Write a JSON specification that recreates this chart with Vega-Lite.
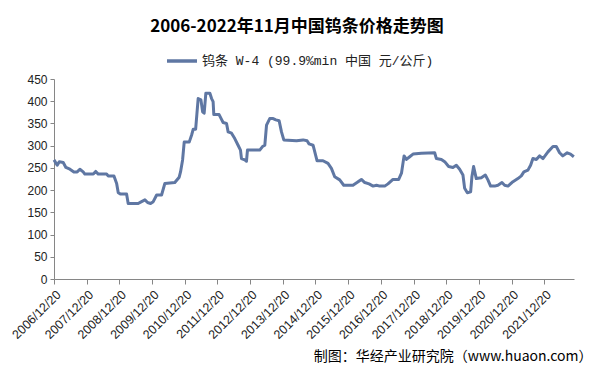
{
  "$schema": "https://vega.github.io/schema/vega-lite/v6.json",
  "autosize": {"type": "none"},
  "width": 520,
  "height": 200,
  "padding": {"left": 54, "top": 79, "right": 21, "bottom": 95},
  "background": "white",
  "title": {
    "text": "2006-2022年11月中国钨条价格走势图",
    "font": "Noto Sans CJK SC",
    "fontSize": 17,
    "fontWeight": "bold",
    "color": "#000000",
    "anchor": "middle",
    "frame": "group",
    "dx": -17,
    "offset": 8
  },
  "config": {
    "view": {"stroke": null},
    "axis": {
      "labelFont": "Liberation Sans",
      "labelColor": "#222222",
      "domainColor": "#868686",
      "tickColor": "#868686",
      "grid": false
    }
  },
  "data": {
    "values": [
      {"date": "2006-12-20", "price": 268},
      {"date": "2007-01-25", "price": 256},
      {"date": "2007-02-17", "price": 264},
      {"date": "2007-04-02", "price": 262},
      {"date": "2007-05-02", "price": 251},
      {"date": "2007-06-16", "price": 247},
      {"date": "2007-07-30", "price": 241},
      {"date": "2007-09-05", "price": 241},
      {"date": "2007-10-05", "price": 247},
      {"date": "2007-11-11", "price": 241},
      {"date": "2007-11-30", "price": 236},
      {"date": "2008-03-03", "price": 236},
      {"date": "2008-03-30", "price": 242},
      {"date": "2008-04-28", "price": 236},
      {"date": "2008-07-30", "price": 236},
      {"date": "2008-08-17", "price": 232},
      {"date": "2008-10-20", "price": 232},
      {"date": "2008-11-19", "price": 215},
      {"date": "2008-12-07", "price": 194},
      {"date": "2009-01-03", "price": 191},
      {"date": "2009-03-10", "price": 191},
      {"date": "2009-03-28", "price": 170},
      {"date": "2009-07-18", "price": 170},
      {"date": "2009-08-14", "price": 173},
      {"date": "2009-10-01", "price": 178},
      {"date": "2009-10-31", "price": 172},
      {"date": "2009-12-03", "price": 170},
      {"date": "2010-01-02", "price": 174},
      {"date": "2010-02-09", "price": 189},
      {"date": "2010-04-05", "price": 189},
      {"date": "2010-05-12", "price": 215},
      {"date": "2010-08-31", "price": 217},
      {"date": "2010-10-19", "price": 229},
      {"date": "2010-11-03", "price": 241},
      {"date": "2010-11-26", "price": 268},
      {"date": "2010-12-14", "price": 308},
      {"date": "2011-02-08", "price": 308},
      {"date": "2011-03-07", "price": 324},
      {"date": "2011-03-25", "price": 337},
      {"date": "2011-04-21", "price": 337},
      {"date": "2011-05-19", "price": 406},
      {"date": "2011-06-19", "price": 403},
      {"date": "2011-07-08", "price": 376},
      {"date": "2011-07-25", "price": 373},
      {"date": "2011-08-13", "price": 418},
      {"date": "2011-09-27", "price": 418},
      {"date": "2011-10-16", "price": 406},
      {"date": "2011-11-02", "price": 399},
      {"date": "2011-11-10", "price": 370},
      {"date": "2012-01-08", "price": 370},
      {"date": "2012-02-04", "price": 359},
      {"date": "2012-02-22", "price": 352},
      {"date": "2012-03-31", "price": 350},
      {"date": "2012-04-18", "price": 331},
      {"date": "2012-05-26", "price": 328},
      {"date": "2012-07-01", "price": 316},
      {"date": "2012-08-07", "price": 301},
      {"date": "2012-09-03", "price": 290},
      {"date": "2012-09-14", "price": 271},
      {"date": "2012-10-21", "price": 268},
      {"date": "2012-11-09", "price": 265},
      {"date": "2012-11-20", "price": 290},
      {"date": "2013-04-06", "price": 290},
      {"date": "2013-05-07", "price": 298},
      {"date": "2013-06-02", "price": 301},
      {"date": "2013-06-21", "price": 346},
      {"date": "2013-07-27", "price": 361},
      {"date": "2013-09-03", "price": 361},
      {"date": "2013-10-03", "price": 358},
      {"date": "2013-11-09", "price": 356},
      {"date": "2013-12-05", "price": 331},
      {"date": "2013-12-31", "price": 313},
      {"date": "2014-05-22", "price": 311},
      {"date": "2014-08-04", "price": 313},
      {"date": "2014-09-17", "price": 311},
      {"date": "2014-10-09", "price": 304},
      {"date": "2014-11-23", "price": 301},
      {"date": "2015-01-07", "price": 266},
      {"date": "2015-03-14", "price": 266},
      {"date": "2015-05-09", "price": 260},
      {"date": "2015-06-16", "price": 249},
      {"date": "2015-07-23", "price": 230},
      {"date": "2015-09-17", "price": 223},
      {"date": "2015-11-01", "price": 211},
      {"date": "2016-02-12", "price": 211},
      {"date": "2016-03-28", "price": 217},
      {"date": "2016-05-16", "price": 224},
      {"date": "2016-06-23", "price": 217},
      {"date": "2016-08-10", "price": 214},
      {"date": "2016-09-24", "price": 209},
      {"date": "2016-11-01", "price": 211},
      {"date": "2016-12-07", "price": 209},
      {"date": "2017-02-01", "price": 209},
      {"date": "2017-03-09", "price": 214},
      {"date": "2017-05-04", "price": 224},
      {"date": "2017-07-07", "price": 224},
      {"date": "2017-08-07", "price": 238},
      {"date": "2017-09-05", "price": 277},
      {"date": "2017-10-01", "price": 269},
      {"date": "2017-11-07", "price": 275},
      {"date": "2017-12-14", "price": 281},
      {"date": "2018-03-18", "price": 283},
      {"date": "2018-08-13", "price": 284},
      {"date": "2018-09-01", "price": 271},
      {"date": "2018-10-27", "price": 269},
      {"date": "2018-12-03", "price": 264},
      {"date": "2019-01-16", "price": 253},
      {"date": "2019-03-05", "price": 251},
      {"date": "2019-04-12", "price": 256},
      {"date": "2019-05-19", "price": 247},
      {"date": "2019-06-25", "price": 234},
      {"date": "2019-07-14", "price": 204},
      {"date": "2019-08-13", "price": 194},
      {"date": "2019-09-19", "price": 196},
      {"date": "2019-10-03", "price": 230},
      {"date": "2019-10-22", "price": 253},
      {"date": "2019-11-21", "price": 226},
      {"date": "2020-01-16", "price": 228},
      {"date": "2020-03-01", "price": 234},
      {"date": "2020-03-30", "price": 223},
      {"date": "2020-04-29", "price": 209},
      {"date": "2020-06-13", "price": 209},
      {"date": "2020-07-20", "price": 211},
      {"date": "2020-09-03", "price": 217},
      {"date": "2020-10-03", "price": 211},
      {"date": "2020-11-09", "price": 209},
      {"date": "2021-01-04", "price": 219},
      {"date": "2021-02-28", "price": 226},
      {"date": "2021-04-07", "price": 232},
      {"date": "2021-05-06", "price": 241},
      {"date": "2021-06-20", "price": 245},
      {"date": "2021-07-20", "price": 256},
      {"date": "2021-08-15", "price": 271},
      {"date": "2021-09-22", "price": 269},
      {"date": "2021-10-29", "price": 277},
      {"date": "2021-12-05", "price": 271},
      {"date": "2022-01-30", "price": 286},
      {"date": "2022-03-27", "price": 298},
      {"date": "2022-05-03", "price": 298},
      {"date": "2022-06-09", "price": 284},
      {"date": "2022-07-15", "price": 277},
      {"date": "2022-09-02", "price": 284},
      {"date": "2022-10-09", "price": 281},
      {"date": "2022-11-15", "price": 275}
    ]
  },
  "mark": {"type": "line", "strokeWidth": 3, "strokeJoin": "round", "interpolate": "linear"},
  "encoding": {
    "x": {
      "field": "date",
      "type": "temporal",
      "scale": {
        "type": "utc",
        "domain": [
          {"year": 2006, "month": 12, "date": 20, "utc": true},
          {"year": 2022, "month": 11, "date": 17, "utc": true}
        ]
      },
      "axis": {
        "values": [
          {"year": 2006, "month": 12, "date": 20, "utc": true},
          {"year": 2007, "month": 12, "date": 20, "utc": true},
          {"year": 2008, "month": 12, "date": 20, "utc": true},
          {"year": 2009, "month": 12, "date": 20, "utc": true},
          {"year": 2010, "month": 12, "date": 20, "utc": true},
          {"year": 2011, "month": 12, "date": 20, "utc": true},
          {"year": 2012, "month": 12, "date": 20, "utc": true},
          {"year": 2013, "month": 12, "date": 20, "utc": true},
          {"year": 2014, "month": 12, "date": 20, "utc": true},
          {"year": 2015, "month": 12, "date": 20, "utc": true},
          {"year": 2016, "month": 12, "date": 20, "utc": true},
          {"year": 2017, "month": 12, "date": 20, "utc": true},
          {"year": 2018, "month": 12, "date": 20, "utc": true},
          {"year": 2019, "month": 12, "date": 20, "utc": true},
          {"year": 2020, "month": 12, "date": 20, "utc": true},
          {"year": 2021, "month": 12, "date": 20, "utc": true}
        ],
        "labelExpr": "utcFormat(datum.value, '%Y/%m/%d')",
        "labelAngle": -45,
        "labelFontSize": 12.5,
        "labelPadding": 4,
        "tickSize": 5,
        "labelOverlap": false,
        "labelBound": false,
        "labelFlush": false,
        "title": "制图：华经产业研究院（www.huaon.com）",
        "titleFont": "Noto Sans CJK SC",
        "titleFontSize": 14,
        "titleFontWeight": "normal",
        "titleColor": "#000000",
        "titleAnchor": "end",
        "titleAlign": "right",
        "titleBaseline": "alphabetic",
        "titleX": 538,
        "titleY": 81
      }
    },
    "y": {
      "field": "price",
      "type": "quantitative",
      "scale": {"domain": [0, 450], "nice": false},
      "axis": {
        "values": [0, 50, 100, 150, 200, 250, 300, 350, 400, 450],
        "labelFontSize": 12,
        "tickSize": 4,
        "labelPadding": 3,
        "title": null
      }
    },
    "color": {
      "datum": "钨条 W-4 (99.9%min 中国 元/公斤)",
      "scale": {"range": ["#5f77a3"]},
      "legend": {
        "title": null,
        "orient": "none",
        "legendX": 111,
        "legendY": -35,
        "symbolType": "stroke",
        "symbolSize": 900,
        "symbolStrokeWidth": 3.5,
        "labelFont": "Liberation Mono, Noto Sans CJK SC",
        "labelFontSize": 13,
        "labelColor": "#222222",
        "labelLimit": 400,
        "labelOffset": 3
      }
    }
  }
}
